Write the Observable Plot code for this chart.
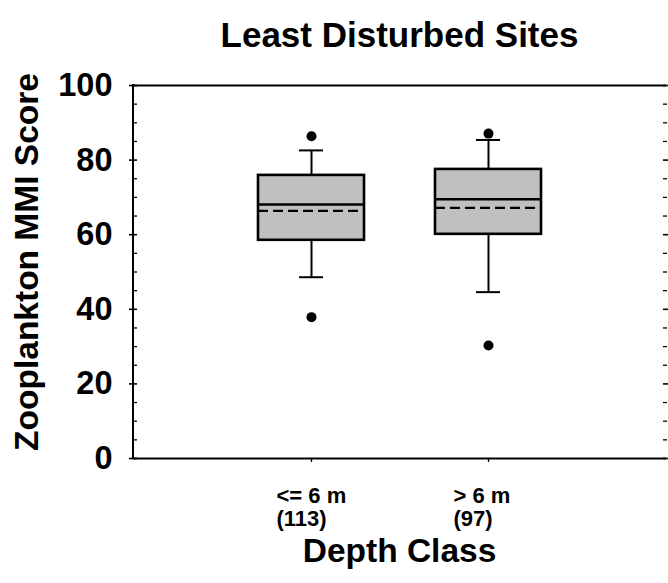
<!DOCTYPE html>
<html>
<head>
<meta charset="utf-8">
<script src="https://cdn.jsdelivr.net/npm/d3@7"></script>
<script src="https://cdn.jsdelivr.net/npm/@observablehq/plot@0.6"></script>
<style>
  html, body { margin: 0; padding: 0; background: #fff; }
  #chart svg { display: block; }
</style>
</head>
<body>
<div id="chart"></div>
<script>
// ---- data ----
const categories = ["<= 6 m", "> 6 m"];
const counts = [113, 97];
const q1 = [58.5, 60.1];
const q3 = [75.9, 77.5];
const medians = [68.1, 69.5];
const means = [66.4, 67.2];
const whiskerLow = [48.6, 44.6];
const whiskerHigh = [82.6, 85.4];
const outlierCategory = ["<= 6 m", "<= 6 m", "> 6 m", "> 6 m"];
const outlierValue = [86.4, 37.9, 87.1, 30.3];
const majorTicks = [0, 20, 40, 60, 80, 100];
const minorTicks = [5, 10, 15, 25, 30, 35, 45, 50, 55, 65, 70, 75, 85, 90, 95];
const titleText = "Least Disturbed Sites";
const xTitle = "Depth Class";
const yTitle = "Zooplankton MMI Score";

const boxes = categories.map((c, i) => ({
  cat: c, n: counts[i], q1: q1[i], q3: q3[i], median: medians[i], mean: means[i],
  lo: whiskerLow[i], hi: whiskerHigh[i]
}));
const outliers = outlierCategory.map((c, i) => ({cat: c, value: outlierValue[i]}));

const font = "'Liberation Sans', Arial, Helvetica, sans-serif";

function leftAxisLine(index, scales, values, dims) {
  const l = document.createElementNS("http://www.w3.org/2000/svg", "line");
  const x = dims.marginLeft;
  l.setAttribute("x1", x);
  l.setAttribute("x2", x);
  l.setAttribute("y1", scales.y(100) - 1);
  l.setAttribute("y2", scales.y(0) + 1);
  l.setAttribute("stroke", "black");
  l.setAttribute("stroke-width", 2);
  return l;
}

const chart = Plot.plot({
  width: 668,
  height: 583,
  marginLeft: 133,
  marginRight: 2,
  marginTop: 85,
  marginBottom: 125,
  style: {fontFamily: font, color: "black", background: "white", overflow: "visible"},
  x: {type: "band", domain: categories, paddingInner: 0.4, paddingOuter: 0.7},
  y: {domain: [0, 100]},
  marks: [
    // frame lines
    Plot.ruleY([0, 100], {stroke: "black", strokeWidth: 2}),
    leftAxisLine,
    // left axis: major ticks crossing the line, with labels
    Plot.axisY({ticks: majorTicks, tickSize: 8, dx: 4, tickPadding: 17, strokeWidth: 1.6,
      fontSize: 32.5, fontWeight: "bold", label: null}),
    // left axis minor ticks (inside)
    Plot.axisY({ticks: minorTicks, tickSize: 4, dx: 4, strokeWidth: 1.3, tickFormat: () => "", label: null}),
    // right axis ticks (inside)
    Plot.axisY({anchor: "right", ticks: majorTicks, tickSize: 8, dx: -4, strokeWidth: 1.6, tickFormat: () => "", label: null}),
    Plot.axisY({anchor: "right", ticks: minorTicks, tickSize: 4, dx: -4, strokeWidth: 1.3, tickFormat: () => "", label: null}),
    // bottom axis ticks
    Plot.axisX({tickSize: 4, strokeWidth: 1.3, tickFormat: () => "", label: null}),
    // bottom axis labels (two lines, left aligned)
    Plot.text(boxes, {x: "cat", text: d => `${d.cat}\n(${d.n})`, frameAnchor: "bottom",
      textAnchor: "start", lineAnchor: "top", dx: -35, dy: 28.5, lineHeight: 1.04,
      fontSize: 22, fontWeight: "bold", fill: "black"}),
    // whiskers
    Plot.ruleX(boxes, {x: "cat", y1: "q3", y2: "hi", stroke: "black", strokeWidth: 2}),
    Plot.ruleX(boxes, {x: "cat", y1: "q1", y2: "lo", stroke: "black", strokeWidth: 2}),
    Plot.tickY(boxes, {x: "cat", y: "hi", insetLeft: 41, insetRight: 41, stroke: "black", strokeWidth: 2}),
    Plot.tickY(boxes, {x: "cat", y: "lo", insetLeft: 41, insetRight: 41, stroke: "black", strokeWidth: 2}),
    // boxes
    Plot.barY(boxes, {x: "cat", y1: "q1", y2: "q3", fill: "#c0c0c0", stroke: "black", strokeWidth: 2.6}),
    Plot.tickY(boxes, {x: "cat", y: "median", stroke: "black", strokeWidth: 2.3}),
    Plot.tickY(boxes, {x: "cat", y: "mean", stroke: "black", strokeWidth: 2.3, strokeDasharray: "10,5"}),
    // outliers
    Plot.dot(outliers, {x: "cat", y: "value", r: 5, fill: "black", stroke: null}),
    // titles
    Plot.text([titleText], {frameAnchor: "top", textAnchor: "middle", dx: -0.5, dy: -63, fontSize: 35, fontWeight: "bold", fill: "black"}),
    Plot.text([xTitle], {frameAnchor: "bottom", textAnchor: "middle", dx: -0.5, dy: 103.5, fontSize: 33.5, fontWeight: "bold", fill: "black"}),
    Plot.text([yTitle], {frameAnchor: "left", textAnchor: "middle", dx: -106, dy: -10, rotate: -90, fontSize: 33.5, fontWeight: "bold", fill: "black"})
  ]
});

document.getElementById("chart").appendChild(chart);
</script>
</body>
</html>
